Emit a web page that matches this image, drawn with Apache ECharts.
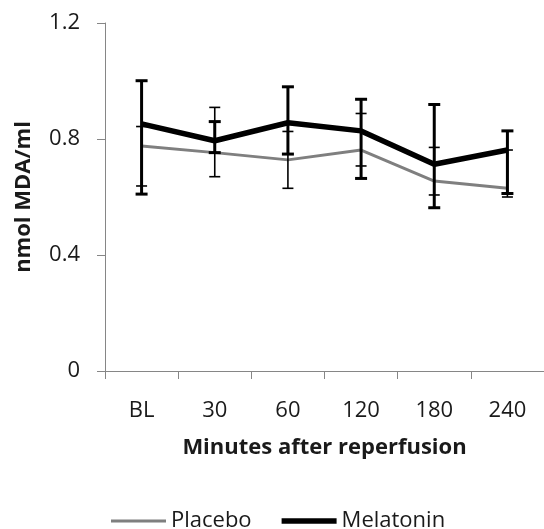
<!DOCTYPE html>
<html>
<head>
<meta charset="utf-8">
<script src="https://cdn.jsdelivr.net/npm/echarts@6/dist/echarts.min.js"></script>
<style>
html,body{margin:0;padding:0;background:#fff;}
#chart{width:544px;height:529px;}
</style>
</head>
<body>
<div id="chart"></div>
<script>
var categories = ['BL', '30', '60', '120', '180', '240'];
var placebo = [0.776, 0.753, 0.728, 0.762, 0.655, 0.630];
var melatonin = [0.852, 0.794, 0.856, 0.828, 0.713, 0.762];
var placeboLow = [0.638, 0.670, 0.630, 0.707, 0.607, 0.600];
var placeboHigh = [0.843, 0.909, 0.826, 0.888, 0.771, 0.762];
var melatoninLow = [0.610, 0.753, 0.748, 0.664, 0.563, 0.612];
var melatoninHigh = [1.001, 0.860, 0.980, 0.937, 0.919, 0.828];
var yTicks = [0, 0.4, 0.8, 1.2];

var FONT = 'Open Sans';
var chart = echarts.init(document.getElementById('chart'));

function errData(low, high) {
  return categories.map(function (c, i) { return [i, low[i], high[i]]; });
}
function errRender(lineW, capW) {
  return function (params, api) {
    var x = api.value(0);
    var lo = api.coord([x, api.value(1)]);
    var hi = api.coord([x, api.value(2)]);
    var st = { stroke: '#000', lineWidth: lineW };
    return {
      type: 'group',
      children: [
        { type: 'line', shape: { x1: lo[0], y1: lo[1], x2: hi[0], y2: hi[1] }, style: st },
        { type: 'line', shape: { x1: lo[0] - capW / 2, y1: lo[1], x2: lo[0] + capW / 2, y2: lo[1] }, style: st },
        { type: 'line', shape: { x1: hi[0] - capW / 2, y1: hi[1], x2: hi[0] + capW / 2, y2: hi[1] }, style: st }
      ]
    };
  };
}

chart.setOption({
  animation: false,
  backgroundColor: '#fff',
  grid: { left: 105, right: 0, top: 23, bottom: 158 },
  legend: {
    left: 106, top: 505,
    itemWidth: 55, itemHeight: 14, itemGap: 30,
    textStyle: { fontFamily: FONT, fontSize: 22, color: '#1a1a1a' },
    data: [
      { name: 'Placebo', icon: 'path://M0,0 L55,0 L55,3 L0,3 Z', itemStyle: { color: '#7f7f7f' } },
      { name: 'Melatonin', icon: 'path://M0,0 L55,0 L55,5.5 L0,5.5 Z', itemStyle: { color: '#000' } }
    ]
  },
  xAxis: {
    type: 'category',
    data: categories,
    boundaryGap: true,
    name: 'Minutes after reperfusion',
    nameLocation: 'middle',
    nameGap: 66,
    nameTextStyle: { fontFamily: FONT, fontSize: 22, fontWeight: 'bold', color: '#1a1a1a' },
    axisLine: { lineStyle: { color: '#868686', width: 1 } },
    axisTick: { show: true, length: 8, alignWithLabel: false, lineStyle: { color: '#868686' } },
    axisLabel: { fontFamily: FONT, fontSize: 22, color: '#1a1a1a', margin: 29 },
    splitLine: { show: false }
  },
  yAxis: {
    type: 'value',
    min: 0, max: 1.2, interval: 0.4,
    name: 'nmol MDA/ml',
    nameLocation: 'middle',
    nameGap: 70,
    nameRotate: 90,
    nameTextStyle: { fontFamily: FONT, fontSize: 22, fontWeight: 'bold', color: '#1a1a1a' },
    axisLine: { show: true, lineStyle: { color: '#868686', width: 1 } },
    axisTick: { show: true, length: 8, lineStyle: { color: '#868686' } },
    axisLabel: {
      fontFamily: FONT, fontSize: 22, color: '#1a1a1a', margin: 25,
      formatter: function (v) {
        for (var i = 0; i < yTicks.length; i++) if (Math.abs(v - yTicks[i]) < 1e-6) return String(yTicks[i]);
        return '';
      }
    },
    splitLine: { show: false }
  },
  series: [
    {
      name: 'Placebo', type: 'line', data: placebo, symbol: 'none',
      lineStyle: { color: '#7f7f7f', width: 3 }, itemStyle: { color: '#7f7f7f' }, z: 2
    },
    {
      name: 'placeboErr', type: 'custom', data: errData(placeboLow, placeboHigh),
      renderItem: errRender(1.6, 11), z: 3, silent: true
    },
    {
      name: 'Melatonin', type: 'line', data: melatonin, symbol: 'none',
      lineStyle: { color: '#000', width: 5.5 }, itemStyle: { color: '#000' }, z: 4
    },
    {
      name: 'melatoninErr', type: 'custom', data: errData(melatoninLow, melatoninHigh),
      renderItem: errRender(3, 12), z: 5, silent: true
    }
  ]
});
</script>
</body>
</html>
